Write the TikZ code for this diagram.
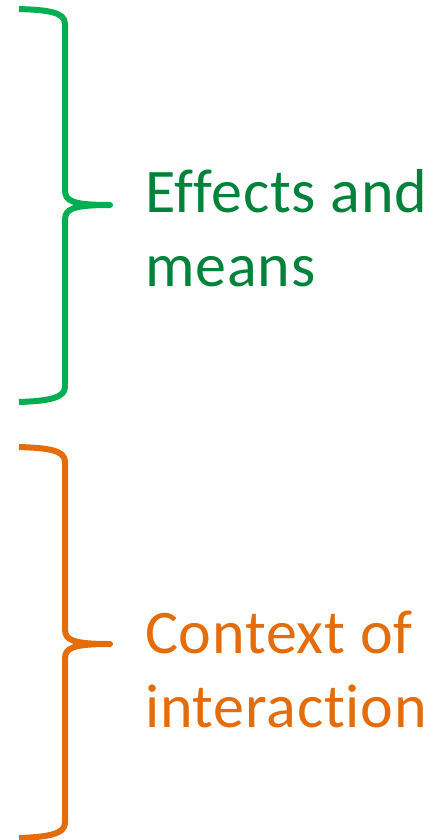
\documentclass[tikz,border=0pt]{standalone}
\usepackage{fontspec}
\setmainfont[Ligatures={NoCommon}, LetterSpace=1.3]{Carlito}
\definecolor{bracegreen}{HTML}{00B050}
\definecolor{labelgreen}{HTML}{00823B}
\definecolor{braceorange}{HTML}{E46C0A}

\begin{document}
\begin{tikzpicture}[x=1pt,y=-1pt]
\tikzset{
  bracket/.style={line width=6pt, line cap=butt, line join=round},
  bracelabel/.style={anchor=base west, inner sep=0pt, align=left,
    font=\fontsize{62}{74}\selectfont}
}
\useasboundingbox (0,0) rectangle (440,840);

% upper brace
\draw[bracket, bracegreen]
  (19,9) .. controls (48,10) and (65,12) .. (65,24)
  -- (65,190) .. controls (65,201) and (72,205) .. (110,205)
  .. controls (72,205) and (65,209) .. (65,220)
  -- (65,387) .. controls (65,398) and (48,401) .. (19,402);
\fill[bracegreen] (110,205) circle (2.6pt);

% lower brace
\draw[bracket, braceorange]
  (19,447) .. controls (48,448) and (65,450) .. (65,462)
  -- (65,629) .. controls (65,640) and (72,644) .. (110,644)
  .. controls (72,644) and (65,648) .. (65,659)
  -- (65,823) .. controls (65,834) and (48,837) .. (19,838);
\fill[braceorange] (110,644) circle (2.6pt);

% labels: base anchor sits on the last line
\node[bracelabel, text=labelgreen] (effects) at (145,286) {Effects and\\means};
\node[bracelabel, text=braceorange] (context) at (145,727) {Context of\\interaction};
\end{tikzpicture}
\end{document}
